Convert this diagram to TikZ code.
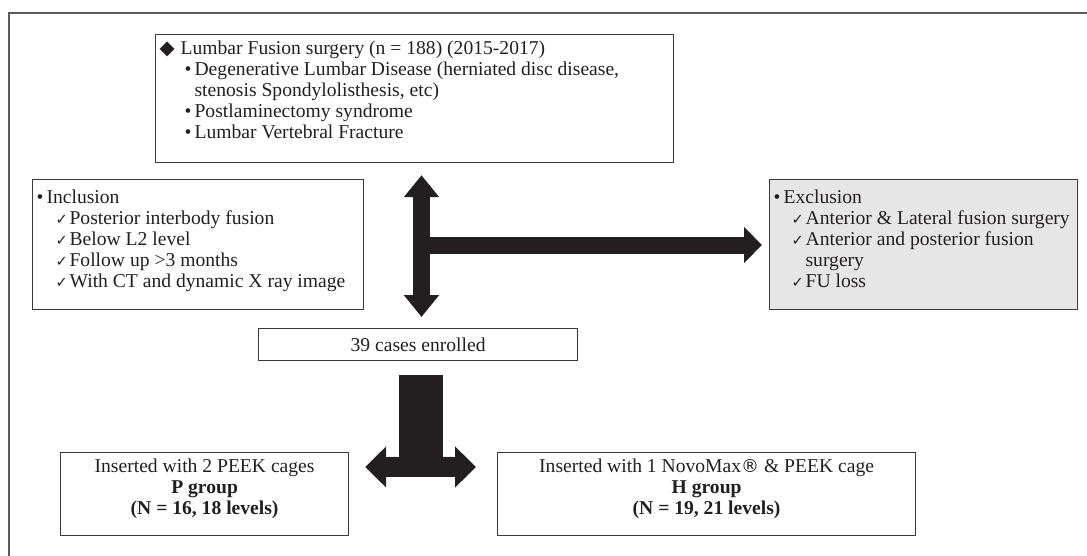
\documentclass[tikz,border=0pt]{standalone}
\usepackage{fontspec}
\setmainfont{Liberation Serif}
\newfontfamily\symf{DejaVu Sans}
\usetikzlibrary{arrows.meta}

\definecolor{inkblack}{HTML}{231F20}
\definecolor{boxgray}{HTML}{3A3A3A}
\definecolor{framegray}{HTML}{5A5A5A}
\definecolor{shade}{HTML}{E6E6E6}

\newcommand{\chk}{\makebox[7pt][l]{\symf\fontsize{7.3}{7.3}\selectfont ✓}}
\newcommand{\bul}{\makebox[5pt][l]{\textbullet}}
\newcommand{\regmark}{{\symf\fontsize{9}{9}\selectfont ®}}

\begin{document}
\begin{tikzpicture}[x=0.5pt, y=-0.5pt,
    box/.style = {draw=boxgray, line width=0.6pt, inner xsep=2pt, inner ysep=3pt,
                  anchor=north west, text=inkblack, font=\fontsize{9.8}{10.6}\selectfont},
    fat/.style = {draw=inkblack, line width=#1},
    vtip/.tip = {Triangle[width=17pt, length=11pt]},
    htip/.tip = {Triangle[width=17.5pt, length=9pt]},
    ftip/.tip = {Triangle[width=20pt, length=10.5pt]}
   ]

    \useasboundingbox (0,0) rectangle (1087,556);
    \draw[framegray, line width=1pt] (1087,13) -- (9,13) -- (9,556);

    % boxes
    \node[box] (top) at (155,34) {\parbox[c][58pt][t]{255pt}{\raggedright
        {\symf ◆}\hspace{3pt}Lumbar Fusion surgery (n = 188) (2015-2017)\\
        \hspace*{12.5pt}\bul Degenerative Lumbar Disease (herniated disc disease,\\
        \hspace*{17.5pt}stenosis Spondylolisthesis, etc)\\
        \hspace*{12.5pt}\bul Postlaminectomy syndrome\\
        \hspace*{12.5pt}\bul Lumbar Vertebral Fracture}};

    \node[box, inner ysep=5pt] (incl) at (32,179) {\parbox[c][55pt][t]{161.5pt}{\raggedright
        \bul Inclusion\\
        \hspace*{9.5pt}\chk Posterior interbody fusion\\
        \hspace*{9.5pt}\chk Below L2 level\\
        \hspace*{9.5pt}\chk Follow up >3 months\\
        \hspace*{9.5pt}\chk With CT and dynamic X ray image}};

    \node[box, inner ysep=5pt, fill=shade] (excl) at (769,179) {\parbox[c][55pt][t]{150pt}{\raggedright
        \bul Exclusion\\
        \hspace*{9pt}\chk Anterior \& Lateral fusion surgery\\
        \hspace*{9pt}\chk Anterior and posterior fusion\\
        \hspace*{16pt}surgery\\
        \hspace*{9pt}\chk FU loss}};

    \node[box, inner ysep=0pt] (cases) at (258,328) {\parbox[c][16pt][c]{155.5pt}{\centering
        39 cases enrolled}};

    \node[box] (pgrp) at (60,452) {\parbox[c][35.5pt][t]{140pt}{\centering
        Inserted with 2 PEEK cages\\
        \textbf{P group}\\
        \textbf{(N = 16, 18 levels)}}};

    \node[box] (hgrp) at (497,452) {\parbox[c][35.5pt][t]{205pt}{\centering
        Inserted with 1 NovoMax\regmark\ \& PEEK cage\\
        \textbf{H group}\\
        \textbf{(N = 19, 21 levels)}}};

    % block arrows
    \coordinate (spine) at (421.5,245);
    \coordinate (fork) at (421,467);

    \draw[fat=8.5pt, vtip-vtip]
        ([yshift=-6pt]top.south -| spine) -- ([yshift=5.5pt]cases.north -| spine);
    \draw[fat=8.5pt, -htip]
        (spine) -- ([xshift=-3.5pt]excl.west |- spine);

    \draw[fat=22pt] ([yshift=-7pt]cases.south -| fork) -- (fork);
    \draw[fat=10pt, ftip-ftip]
        ([xshift=8pt]pgrp.east |- fork) -- ([xshift=-10.5pt]hgrp.west |- fork);

\end{tikzpicture}
\end{document}
